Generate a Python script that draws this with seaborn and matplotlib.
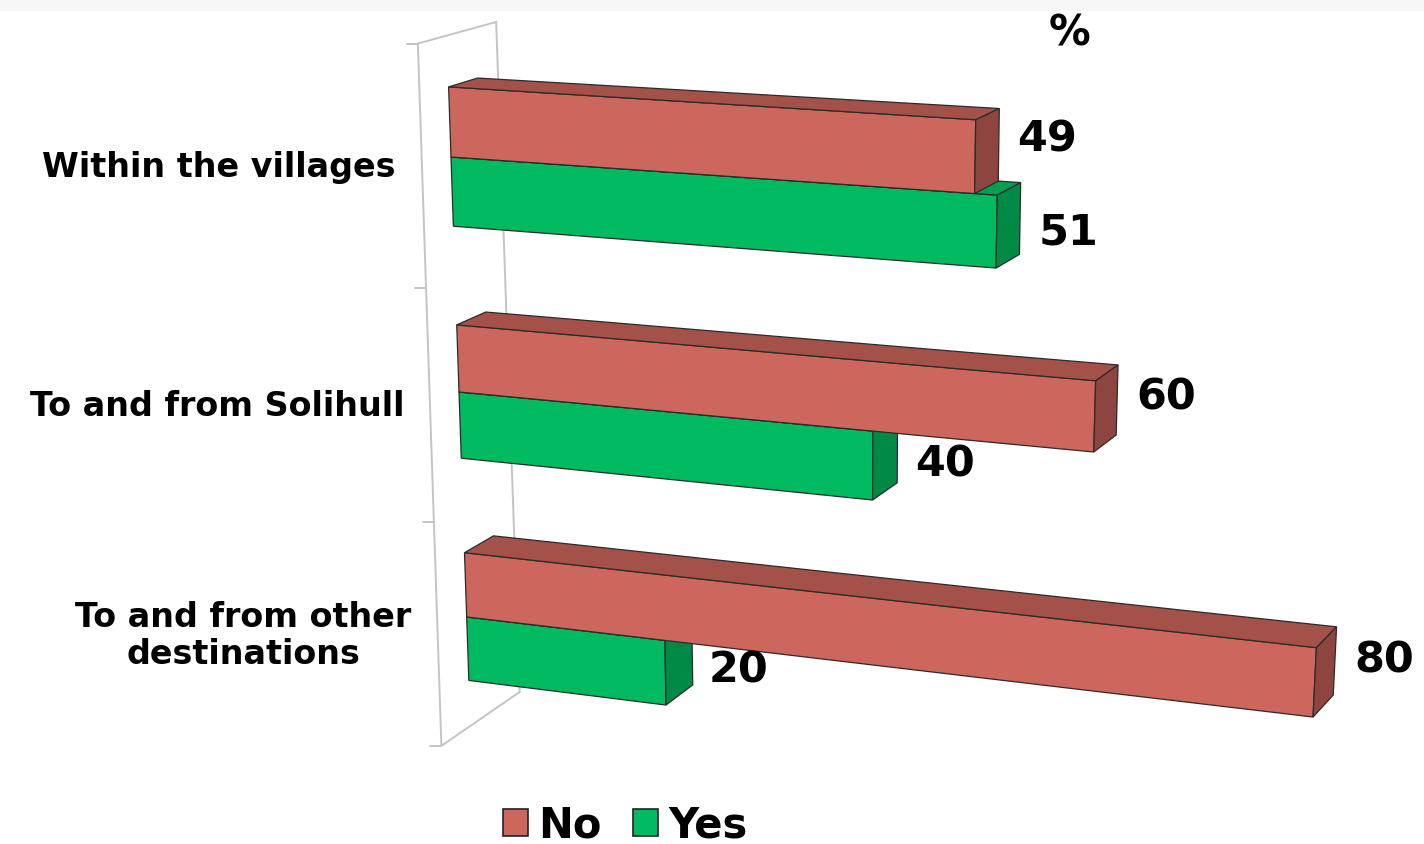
import numpy as np
import pandas as pd
import matplotlib
matplotlib.use("Agg")
import matplotlib.pyplot as plt
import seaborn as sns
from matplotlib.patches import Polygon, Rectangle, Patch

# ---- data -------------------------------------------------------------
categories = ["Within the villages", "To and from Solihull",
              "To and from other\ndestinations"]
series = ["No", "Yes"]
no_values = [49, 60, 80]
yes_values = [51, 40, 20]
unit_label = "%"

# ---- style ------------------------------------------------------------
front_colors = {"No": "#CD665C", "Yes": "#00BA5F"}
top_colors = {"No": "#A4514A", "Yes": "#00A052"}
side_colors = {"No": "#8E453F", "Yes": "#008A45"}
label_nudge = {"No": -12, "Yes": 6}
edge_color = "#2b2b2b"
wall_color = "#C4C4C4"

W, H_PX = 1424, 845

sns.set_theme(style="white")
plt.rcParams["font.family"] = ["DejaVu Sans"]
plt.rcParams["text.color"] = "black"

df = pd.DataFrame({
    "category": categories * 2,
    "series": [series[0]] * len(categories) + [series[1]] * len(categories),
    "value": no_values + yes_values,
})

fig = plt.figure(figsize=(W / 100, H_PX / 100), dpi=100)

# seaborn lays the bars out in data space (value along x, category along y)
ax_data = fig.add_axes([0, 0, 1, 1])
sns.barplot(data=df, x="value", y="category", hue="series", orient="h",
            hue_order=series, palette=front_colors, width=0.58,
            legend=False, ax=ax_data)
u_ticks = list(ax_data.get_yticks())
u_lo, u_hi = sorted(ax_data.get_ylim())
bars = {name: [(p.get_x(), p.get_x() + p.get_width(),
                p.get_y(), p.get_y() + p.get_height())
               for p in cont.patches]
        for name, cont in zip(series, ax_data.containers)}
ax_data.set_visible(False)

# ---- perspective camera: (value, category, depth) -> pixels -----------
CAM = np.array([[9.643, 18.2, 451.0],
                [0.5375, 243.7, 158.0],
                [-0.001071, 0.0222, 1.0]])


def project(v, u, z=0.0):
    w = CAM[2, 0] * v + CAM[2, 1] * u + CAM[2, 2]
    x = (CAM[0, 0] * v + CAM[0, 1] * u + CAM[0, 2]) / w
    y = (CAM[1, 0] * v + CAM[1, 1] * u + CAM[1, 2]) / w
    # depth recedes up and to the right
    x += z * (29.0 - 0.11 * v)
    y += z * (-10.0 - 4.0 * u - 0.05 * v)
    return x, y


ax = fig.add_axes([0, 0, 1, 1])
ax.set_xlim(0, W)
ax.set_ylim(H_PX, 0)
ax.axis("off")

# thin band across the top
ax.add_patch(Rectangle((0, 0), W, 12, facecolor="#F5F7F9",
                       edgecolor="none", zorder=0))

# ---- side wall outline ----------------------------------------------
z_front, z_back = -1.0, 1.7
corners = [project(0, u_lo, z_front), project(0, u_hi, z_front),
           project(0, u_hi, z_back), project(0, u_lo, z_back)]
xs = [c[0] for c in corners] + [corners[0][0]]
ys = [c[1] for c in corners] + [corners[0][1]]
ax.plot(xs, ys, color=wall_color, lw=1.4, zorder=1, solid_joinstyle="miter")
for u in np.arange(u_lo, u_hi + 0.01, 1.0):
    x0, y0 = project(0, u, z_front)
    ax.plot([x0 - 11, x0], [y0, y0], color=wall_color, lw=1.4, zorder=1)


# ---- bars -----------------------------------------------------------
def draw_bar(v0, v1, u0, u1, name, zo):
    front = [project(v0, u0), project(v1, u0), project(v1, u1), project(v0, u1)]
    top = [project(v0, u0), project(v1, u0), project(v1, u0, 1), project(v0, u0, 1)]
    side = [project(v1, u0), project(v1, u1), project(v1, u1, 1), project(v1, u0, 1)]
    for poly, col in ((front, front_colors[name]), (top, top_colors[name]),
                      (side, side_colors[name])):
        ax.add_patch(Polygon(poly, closed=True, facecolor=col,
                             edgecolor=edge_color, lw=0.9, zorder=zo,
                             joinstyle="miter"))


for i in range(len(categories)):
    # lower bar first so the upper one sits on top of it
    for order, name in enumerate(reversed(series)):
        v0, v1, u0, u1 = bars[name][i]
        draw_bar(v0, v1, u0, u1, name, 2 + order)
        uc = (u0 + u1) / 2
        lx, ly = project(v1, uc, 0.5)
        ax.text(lx + 30, ly + label_nudge[name], f"{v1 - v0:g}",
                ha="left", va="center", fontsize=31, fontweight="bold",
                color="black", zorder=6)

# ---- category labels ------------------------------------------------
for u, lab in zip(u_ticks, categories):
    x0, y0 = project(0, u, z_front)
    ax.text(x0 - 26, y0, lab, ha="right", va="center", multialignment="center",
            fontsize=24, fontweight="bold", color="black", linespacing=1.15)

# unit marker above the value axis
ax.text(1070, 34, unit_label, ha="center", va="center", fontsize=30,
        fontweight="bold", color="black")

# ---- legend -----------------------------------------------------------
handles = [Patch(facecolor=front_colors[s], edgecolor="#222222", lw=1.2)
           for s in series]
leg = fig.legend(handles, series, loc="center",
                 bbox_to_anchor=(625 / W, 1 - 826 / H_PX), ncol=2,
                 frameon=False, handlelength=0.6, handleheight=0.6,
                 handletextpad=0.25, columnspacing=0.75,
                 prop={"size": 30, "weight": "bold"})
for t in leg.get_texts():
    t.set_color("black")

fig.savefig("out.png", dpi=100, facecolor="white")
